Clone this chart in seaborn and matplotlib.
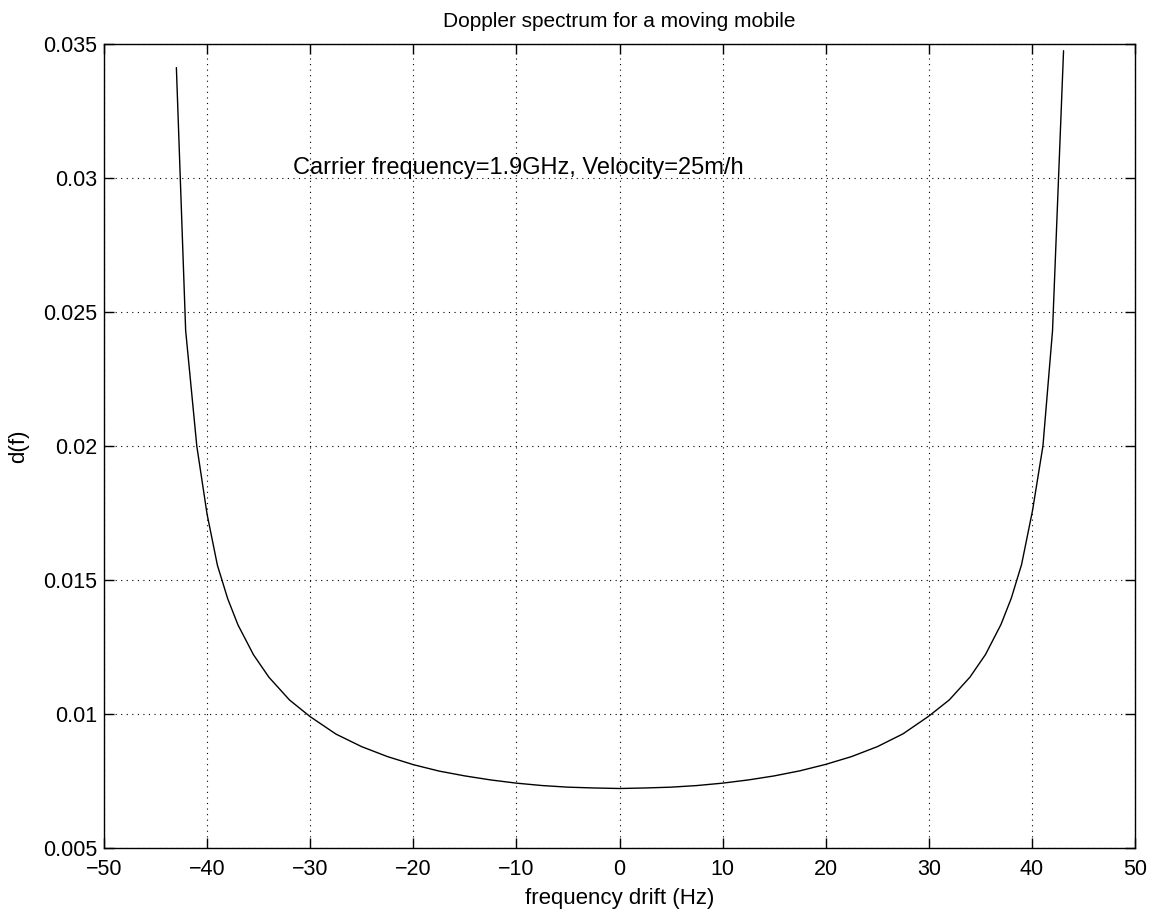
import matplotlib
matplotlib.use("Agg")
import matplotlib.pyplot as plt
import seaborn as sns
import pandas as pd

# Values
freq_hz = [-42.98, -42.08, -41.0, -40.0, -39.0, -38.0, -37.0, -35.5, -34.0, -32.0,
           -30.0, -27.5, -25.0, -22.5, -20.0, -17.5, -15.0, -12.5, -10.0, -7.5,
           -5.0, -2.5, 0.0, 2.5, 5.0, 7.5, 10.0, 12.5, 15.0, 17.5,
           20.0, 22.5, 25.0, 27.5, 30.0, 32.0, 34.0, 35.5, 37.0, 38.0,
           39.0, 40.06, 41.07, 42.0, 43.07]
doppler = [0.03412, 0.02431, 0.02000, 0.01745, 0.01555, 0.01430, 0.01332, 0.01221, 0.01137, 0.01052,
           0.00990, 0.00925, 0.00878, 0.00841, 0.00811, 0.00787, 0.00769, 0.00754, 0.00742, 0.00733,
           0.00727, 0.00724, 0.00722, 0.00724, 0.00727, 0.00733, 0.00742, 0.00754, 0.00769, 0.00788,
           0.00812, 0.00841, 0.00878, 0.00926, 0.00992, 0.01053, 0.01138, 0.01222, 0.01334, 0.01432,
           0.01558, 0.01759, 0.02000, 0.02430, 0.03475]
x_ticks = [-50, -40, -30, -20, -10, 0, 10, 20, 30, 40, 50]
y_ticks = [0.005, 0.01, 0.015, 0.02, 0.025, 0.03, 0.035]
y_tick_labels = ["0.005", "0.01", "0.015", "0.02", "0.025", "0.03", "0.035"]

sns.set_theme(style="white")
plt.rcParams["font.family"] = ["Liberation Sans", "DejaVu Sans"]
plt.rcParams["axes.unicode_minus"] = True
plt.rcParams["text.color"] = "black"
plt.rcParams["axes.labelcolor"] = "black"

df = pd.DataFrame({"f": freq_hz, "d": doppler})

fig = plt.figure(figsize=(11.62, 9.13), dpi=100)
ax = fig.add_axes([104 / 1162, (913 - 848) / 913, (1135 - 104) / 1162, (848 - 44) / 913])

sns.lineplot(data=df, x="f", y="d", ax=ax, color="black", linewidth=1.0,
             sort=False, estimator=None)

ax.set_xlim(-50, 50)
ax.set_ylim(0.005, 0.035)
ax.set_xticks(x_ticks)
ax.set_xticklabels([str(t).replace("-", "\u2212") for t in x_ticks])
ax.set_yticks(y_ticks)
ax.set_yticklabels(y_tick_labels)

ax.grid(True, linestyle=(0, (1, 4)), color="black", linewidth=0.8)
for s in ax.spines.values():
    s.set_color("black")
    s.set_linewidth(1.0)
ax.tick_params(direction="in", length=7.5, width=1, colors="black", labelsize=15.5,
               top=True, right=True, bottom=True, left=True)
ax.tick_params(axis="x", pad=8)
ax.tick_params(axis="y", pad=5)

ax.set_title("Doppler spectrum for a moving mobile", fontsize=15, pad=12, color="black")
ax.set_xlabel("frequency drift (Hz)", fontsize=16, labelpad=6, color="black")
ax.set_ylabel("d(f)", fontsize=16, labelpad=10, color="black")
ax.text(-31.65, 0.03014, "Carrier frequency=1.9GHz, Velocity=25m/h", fontsize=17,
        ha="left", va="baseline", color="black")

fig.savefig("out.png", dpi=100, facecolor="white")
